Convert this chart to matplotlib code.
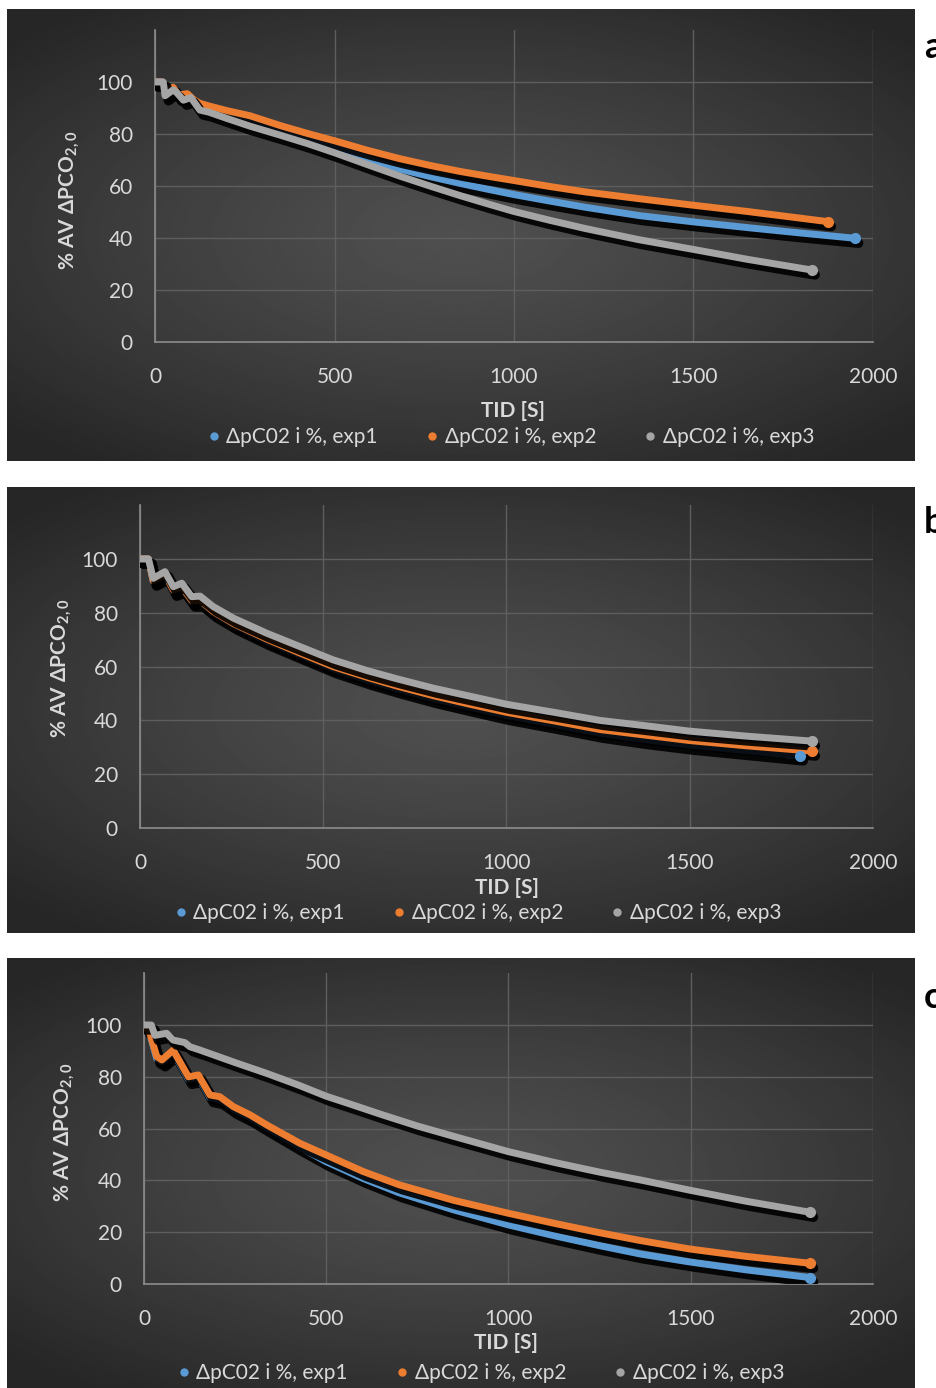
import numpy as np
import matplotlib.pyplot as plt
from matplotlib import patheffects as pe
from matplotlib.lines import Line2D

plt.rcParams['font.family'] = ['Lato', 'DejaVu Sans']
plt.rcParams['mathtext.fontset'] = 'custom'
plt.rcParams['mathtext.rm'] = 'Lato'
plt.rcParams['mathtext.bf'] = 'Lato:bold'

# ---- data (time in s, % of initial delta pCO2) ----
series_names = ['ΔpC02 i %, exp1', 'ΔpC02 i %, exp2', 'ΔpC02 i %, exp3']
colors = ['#5b9bd5', '#ed7d31', '#a5a5a5']

# panel a
a_t1 = [0, 20, 30, 50, 65, 90, 110, 125, 150, 200, 265, 350, 425, 500, 590, 682, 770, 850, 925, 1000,
        1100, 1200, 1350, 1500, 1650, 1800, 1950]
a_v1 = [100, 100, 96, 97.5, 94.5, 95, 92.5, 91.3, 90.3, 88.5, 86.2, 82.3, 78.8, 74.9, 70.5, 66.5, 63.5, 61,
        58.8, 56.7, 54.2, 51.8, 48.6, 46.2, 44, 41.9, 39.9]
a_t2 = [0, 20, 30, 50, 65, 90, 110, 125, 150, 200, 265, 350, 425, 500, 590, 682, 770, 850, 925, 1000,
        1100, 1200, 1350, 1500, 1650, 1874]
a_v2 = [100, 100, 96.5, 98, 95, 95.5, 93, 91.8, 90.8, 89, 87, 83.2, 80.2, 77.4, 73.8, 70.5, 67.8, 65.6,
        63.8, 62.1, 59.8, 57.7, 55.1, 52.6, 50.2, 46.3]
a_t3 = [0, 23, 28, 51, 60, 79, 100, 125, 150, 200, 265, 350, 425, 500, 590, 682, 770, 850, 925, 1000,
        1100, 1200, 1350, 1500, 1650, 1829]
a_v3 = [100, 100, 94.7, 97, 96, 93, 94, 89.2, 88.4, 86, 83, 79.5, 76.3, 72.8, 68.3, 63.8, 59.8, 56.3,
        53.2, 50.2, 46.8, 43.6, 39.3, 35.6, 31.8, 27.7]

# panel b
b_t1 = [0, 23, 36, 68, 91, 114, 141, 164, 200, 255, 346, 437, 527, 620, 700, 800, 900, 1000,
        1130, 1255, 1380, 1500, 1650, 1800]
b_v1 = [100, 100, 91.8, 94, 88, 89.2, 84, 84, 80, 75.5, 69.5, 64.3, 59.2, 55, 51.8, 48.1, 44.9,
        41.8, 38.5, 35.2, 32.8, 30.8, 28.8, 26.8]
b_t2 = [0, 23, 36, 68, 91, 114, 141, 164, 200, 255, 346, 437, 527, 620, 700, 800, 900, 1000,
        1130, 1255, 1380, 1500, 1650, 1833]
b_v2 = [100, 100, 92, 94.3, 88.5, 89.6, 84.6, 84.6, 80.5, 76, 70.2, 65, 60, 56, 52.8, 49.2, 46,
        43, 39.8, 36.6, 34.5, 32.5, 30.6, 28.6]
b_t3 = [0, 23, 36, 68, 91, 114, 141, 164, 200, 255, 346, 437, 527, 620, 700, 800, 900, 1000,
        1130, 1255, 1380, 1500, 1650, 1833]
b_v3 = [100, 100, 92.8, 95.3, 89.7, 91, 86, 86.2, 82.3, 78, 72.4, 67.4, 62.5, 58.5, 55.5, 52, 49, 46,
        43, 40, 38, 36, 34.2, 32.3]

# panel c
c_t1 = [0, 16, 35, 49, 80, 122, 149, 181, 208, 245, 291, 337, 428, 500, 600, 700, 850, 1000,
        1130, 1250, 1361, 1498, 1650, 1827]
c_v1 = [100, 96.5, 87, 85.8, 89.5, 79, 79.8, 72, 71.2, 67.5, 64.2, 60.3, 52.8, 47.2, 40.8, 35.2, 28.6,
        22.8, 18.5, 14.8, 11.6, 8.5, 5.5, 2.5]
c_t2 = [0, 16, 35, 49, 80, 122, 149, 181, 208, 245, 291, 337, 428, 500, 600, 700, 850, 1000,
        1130, 1250, 1361, 1498, 1650, 1827]
c_v2 = [100, 96.9, 87.8, 86.5, 90.3, 80, 80.7, 73, 72.3, 68.5, 65.3, 61.4, 54.3, 49.8, 43.5, 38.3, 32.3,
        27.3, 23.3, 19.8, 16.8, 13.5, 10.7, 8]
c_t3 = [0, 20, 30, 62, 80, 112, 126, 154, 200, 250, 337, 420, 500, 565, 650, 750, 850, 1000,
        1130, 1250, 1361, 1498, 1650, 1827]
c_v3 = [100, 100, 96, 96.8, 94.2, 93.2, 91.6, 90.3, 88, 85.5, 81.3, 77, 72.5, 69.5, 65.5, 61, 57, 51.1,
        46.8, 43.2, 40.2, 36.2, 32, 27.7]

x_ticks = [0, 500, 1000, 1500, 2000]
y_ticks = [0, 20, 40, 60, 80, 100]

W, H = 937, 1388
fig = plt.figure(figsize=(W / 100, H / 100), dpi=100)


def fx(px):
    return px / W


def fy(py):
    return 1 - py / H


# radial gradient for the dark chart backgrounds
yy, xx = np.mgrid[-1:1:300j, -1:1:300j]
rr = np.sqrt((xx / 1.1) ** 2 + (yy / 1.0) ** 2)
grad = np.clip(rr, 0, 1.25) / 1.25
light, dark = 0.31, 0.15
grad_img = light - (light - dark) * grad ** 1.3

panels = [
    dict(bg=(7, 9, 915, 461), ax=(155, 873, 342, 82), tag='a', tag_y=48,
         xlab=69, xlab_x=513, leg=95, leg_x=510, ylab_x=70, ylab_y=200,
         data=[(a_t1, a_v1), (a_t2, a_v2), (a_t3, a_v3)]),
    dict(bg=(7, 487, 915, 933), ax=(140, 873, 828, 559), tag='b', tag_y=522,
         xlab=60, xlab_x=507, leg=85, leg_x=477, ylab_x=62, ylab_y=668,
         data=[(b_t1, b_v1), (b_t2, b_v2), (b_t3, b_v3)]),
    dict(bg=(7, 958, 915, 1388), ax=(144, 873, 1284, 1025), tag='c', tag_y=997,
         xlab=59, xlab_x=506, leg=89, leg_x=480, ylab_x=65, ylab_y=1132,
         data=[(c_t1, c_v1), (c_t2, c_v2), (c_t3, c_v3)]),
]

txt_col = '#d9d9d9'
grid_col = '#5e5e5e'

for p in panels:
    x0, y0, x1, y1 = p['bg']
    bg = fig.add_axes([fx(x0), fy(y1), fx(x1 - x0), (y1 - y0) / H], zorder=0)
    bg.imshow(grad_img, cmap='gray', vmin=0, vmax=1, aspect='auto',
              interpolation='bilinear')
    bg.axis('off')

    left, right, zero, hundred = p['ax']
    per = (zero - hundred) / 100
    top = zero - 120 * per
    ax = fig.add_axes([fx(left), fy(zero), fx(right - left), (zero - top) / H], zorder=1)
    ax.patch.set_alpha(0)
    ax.set_xlim(0, 2000)
    ax.set_ylim(0, 120)
    ax.set_xticks(x_ticks)
    ax.set_yticks(y_ticks)
    ax.grid(True, color=grid_col, lw=1)
    ax.set_axisbelow(True)
    for s in ['top', 'right']:
        ax.spines[s].set_visible(False)
    for s in ['left', 'bottom']:
        ax.spines[s].set_color('#8c8c8c')
        ax.spines[s].set_linewidth(1.2)
    ax.tick_params(length=0, colors=txt_col, labelsize=15)
    ax.tick_params(axis='x', pad=18)
    ax.tick_params(axis='y', pad=16)

    for (t, v), c in zip(p['data'], colors):
        ln, = ax.plot(t, v, color=c, lw=5, solid_capstyle='round',
                      solid_joinstyle='round', zorder=3)
        ln.set_path_effects([
            pe.SimpleLineShadow(offset=(2.5, -3.5), shadow_color='black',
                                alpha=0.9, linewidth=7),
            pe.Normal()])
        ax.plot(t[-1], v[-1], 'o', color=c, ms=7, mec=c, zorder=4)

    ax.set_xlabel('TID [S]', fontsize=15, fontweight='bold', color=txt_col)
    ax.xaxis.label.set_va('center')
    ax.xaxis.set_label_coords(fx(p['xlab_x']), fy(zero + p['xlab']),
                              transform=fig.transFigure)

    ax.set_ylabel('% AV ΔPCO$_{\\mathbf{2,0}}$', fontsize=15, fontweight='bold',
                  color=txt_col)
    ax.yaxis.label.set_va('center')
    ax.yaxis.set_label_coords(fx(p['ylab_x']), fy(p['ylab_y']),
                              transform=fig.transFigure)

    handles = [Line2D([], [], ls='none', marker='o', ms=5, color=c) for c in colors]
    ax.legend(handles, series_names, loc='center', ncol=3, frameon=False,
              bbox_to_anchor=(fx(p['leg_x']), fy(zero + p['leg'])),
              bbox_transform=fig.transFigure, fontsize=15, labelcolor=txt_col,
              handletextpad=0.2, columnspacing=2.2, handlelength=0.8)

    fig.text(fx(924), fy(p['tag_y']), p['tag'], fontsize=26, fontweight='bold',
             color='black', ha='left', va='center')

fig.savefig('out.png', dpi=100, facecolor='white')
